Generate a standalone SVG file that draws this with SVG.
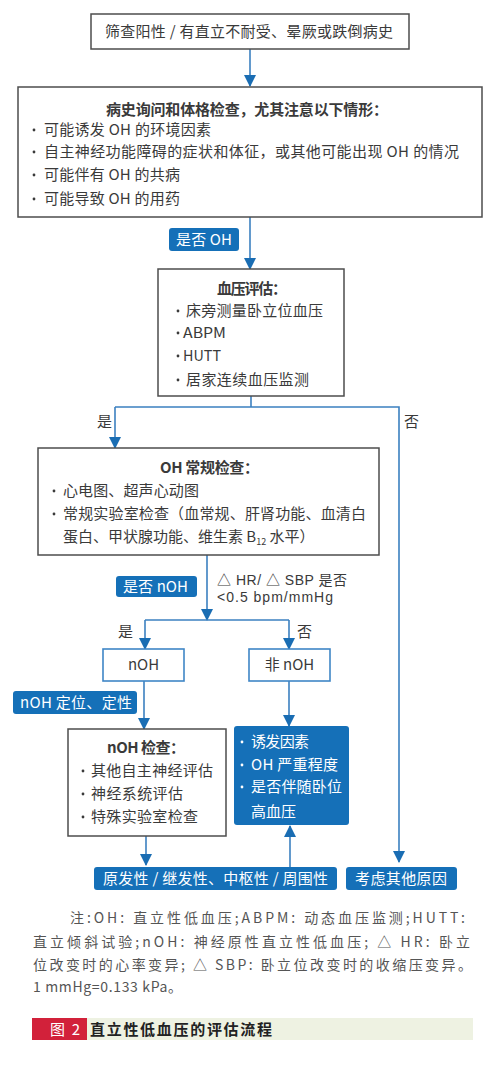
<svg xmlns="http://www.w3.org/2000/svg" width="500" height="1074" viewBox="0 0 500 1074">
<defs>
<style>
text{font-family:"Noto Sans CJK SC","Liberation Sans",sans-serif;font-size:15px;fill:#3a3a3a}
.b{font-weight:bold}
.w{fill:#ffffff}
.box{fill:#ffffff;stroke:#4d4d4d;stroke-width:1.5}
.bbox{fill:#ffffff;stroke:#3f86c6;stroke-width:1.6}
.fill{fill:#1570b8}
.con{fill:none;stroke:#3b80c0;stroke-width:1.6}
.note{font-size:14px;fill:#555}
.sm{font-family:"Liberation Sans","Noto Sans CJK SC",sans-serif;font-size:14px}
.dot{fill:#3a3a3a}
.wdot{fill:#ffffff}
</style>
<marker id="ah" markerUnits="userSpaceOnUse" markerWidth="12" markerHeight="14" refX="11" refY="6" orient="auto">
<path d="M0,0 L12,6 L0,12 Z" fill="#1a6db3"/>
</marker>
</defs>
<rect width="500" height="1074" fill="#ffffff"/>

<g id="connectors">
<line class="con" x1="250" y1="49" x2="250" y2="86" marker-end="url(#ah)"/>
<line class="con" x1="250" y1="217" x2="250" y2="269" marker-end="url(#ah)"/>
<polyline class="con" points="251,396 251,407"/>
<polyline class="con" points="115,407 399,407 399,862" marker-end="url(#ah)"/>
<line class="con" x1="115" y1="407" x2="115" y2="448" marker-end="url(#ah)"/>
<line class="con" x1="207" y1="555" x2="207" y2="620" marker-end="url(#ah)"/>
<polyline class="con" points="145,620 289,620"/>
<line class="con" x1="145" y1="620" x2="145" y2="649" marker-end="url(#ah)"/>
<line class="con" x1="289" y1="620" x2="289" y2="649" marker-end="url(#ah)"/>
<line class="con" x1="144" y1="681" x2="144" y2="729" marker-end="url(#ah)"/>
<line class="con" x1="289" y1="681" x2="289" y2="726" marker-end="url(#ah)"/>
<line class="con" x1="146" y1="836" x2="146" y2="865" marker-end="url(#ah)"/>
<line class="con" x1="290" y1="867" x2="290" y2="826" marker-end="url(#ah)"/>
<text x="97" y="427">是</text>
<text x="404" y="427">否</text>
<text x="118" y="637">是</text>
<text x="297" y="637">否</text>
<text class="sm" x="217" y="585" textLength="130" lengthAdjust="spacing">△ HR/ △ SBP 是否</text>
<text class="sm" x="217" y="602" textLength="116" lengthAdjust="spacing">&lt;0.5 bpm/mmHg</text>
</g>

<g id="n1">
<rect class="box" x="91" y="14" width="318" height="35"/>
<text x="105" y="37" textLength="288" lengthAdjust="spacing">筛查阳性 / 有直立不耐受、晕厥或跌倒病史</text>
</g>

<g id="n2">
<rect class="box" x="18" y="87" width="464" height="130"/>
<text class="b" x="106" y="115" textLength="282" lengthAdjust="spacing">病史询问和体格检查，尤其注意以下情形：</text>
<circle class="dot" cx="34" cy="130" r="1.4"/><text x="44" y="135" textLength="167" lengthAdjust="spacing">可能诱发 OH 的环境因素</text>
<circle class="dot" cx="34" cy="152" r="1.4"/><text x="44" y="157" textLength="415" lengthAdjust="spacing">自主神经功能障碍的症状和体征，或其他可能出现 OH 的情况</text>
<circle class="dot" cx="34" cy="175" r="1.4"/><text x="44" y="180" textLength="136" lengthAdjust="spacing">可能伴有 OH 的共病</text>
<circle class="dot" cx="34" cy="199" r="1.4"/><text x="44" y="204" textLength="136" lengthAdjust="spacing">可能导致 OH 的用药</text>
</g>

<g id="l1">
<rect class="fill" x="169" y="228" width="70" height="23" rx="3"/>
<text class="w" x="176" y="245" textLength="56" lengthAdjust="spacing">是否 OH</text>
</g>

<g id="n3">
<rect class="box" x="158" y="269" width="186" height="127"/>
<text class="b" x="217" y="294" textLength="70" lengthAdjust="spacing">血压评估：</text>
<circle class="dot" cx="178" cy="311" r="1.4"/><text x="186" y="316" textLength="137" lengthAdjust="spacing">床旁测量卧立位血压</text>
<circle class="dot" cx="178" cy="333" r="1.4"/><text x="183" y="338" textLength="43" lengthAdjust="spacingAndGlyphs">ABPM</text>
<circle class="dot" cx="178" cy="356" r="1.4"/><text x="183" y="361" textLength="38" lengthAdjust="spacingAndGlyphs">HUTT</text>
<circle class="dot" cx="178" cy="380" r="1.4"/><text x="186" y="385" textLength="123" lengthAdjust="spacing">居家连续血压监测</text>
</g>

<g id="n4">
<rect class="box" x="38" y="448" width="341" height="107"/>
<text class="b" x="160" y="473" textLength="99" lengthAdjust="spacing">OH 常规检查：</text>
<circle class="dot" cx="54" cy="491" r="1.4"/><text x="63" y="496" textLength="136" lengthAdjust="spacing">心电图、超声心动图</text>
<circle class="dot" cx="54" cy="514" r="1.4"/><text x="63" y="519" textLength="303" lengthAdjust="spacing">常规实验室检查（血常规、肝肾功能、血清白</text>
<text x="63" y="542">蛋白、甲状腺功能、维生素 B<tspan font-size="9" dy="3">12</tspan><tspan dy="-3"> 水平）</tspan></text>
</g>

<g id="l2">
<rect class="fill" x="116" y="576" width="81" height="21" rx="3"/>
<text class="w" x="123" y="592" textLength="65" lengthAdjust="spacing">是否 nOH</text>
</g>

<g id="n5">
<rect class="bbox" x="103" y="649" width="81" height="32"/>
<text x="143.5" y="670" text-anchor="middle">nOH</text>
</g>

<g id="n6">
<rect class="bbox" x="249" y="649" width="81" height="32"/>
<text x="289.5" y="670" text-anchor="middle">非 nOH</text>
</g>

<g id="l3">
<rect class="fill" x="13" y="691" width="124" height="23" rx="3"/>
<text class="w" x="20" y="708" textLength="112" lengthAdjust="spacing">nOH 定位、定性</text>
</g>

<g id="n7">
<rect class="box" x="68" y="729" width="158" height="107"/>
<text class="b" x="107" y="753" textLength="78" lengthAdjust="spacing">nOH 检查：</text>
<circle class="dot" cx="83" cy="771" r="1.4"/><text x="91" y="776" textLength="122" lengthAdjust="spacing">其他自主神经评估</text>
<circle class="dot" cx="83" cy="794" r="1.4"/><text x="91" y="799" textLength="92" lengthAdjust="spacing">神经系统评估</text>
<circle class="dot" cx="83" cy="817" r="1.4"/><text x="91" y="822" textLength="107" lengthAdjust="spacing">特殊实验室检查</text>
</g>

<g id="n8">
<rect class="fill" x="234" y="726" width="115" height="99" rx="3"/>
<circle class="wdot" cx="242" cy="742" r="1.4"/><text class="w" x="251" y="747" textLength="58" lengthAdjust="spacing">诱发因素</text>
<circle class="wdot" cx="242" cy="765" r="1.4"/><text class="w" x="251" y="770" textLength="87" lengthAdjust="spacing">OH 严重程度</text>
<circle class="wdot" cx="242" cy="787" r="1.4"/><text class="w" x="251" y="792" textLength="91" lengthAdjust="spacing">是否伴随卧位</text>
<text class="w" x="251" y="817" textLength="45" lengthAdjust="spacing">高血压</text>
</g>

<g id="n9">
<rect class="fill" x="94" y="867" width="243" height="23" rx="3"/>
<text class="w" x="103" y="884" textLength="225" lengthAdjust="spacing">原发性 / 继发性、中枢性 / 周围性</text>
</g>

<g id="n10">
<rect class="fill" x="346" y="867" width="111" height="23" rx="3"/>
<text class="w" x="355" y="884" textLength="92" lengthAdjust="spacing">考虑其他原因</text>
</g>

<g id="note">
<text class="note" x="70" y="923" textLength="395" lengthAdjust="spacing">注:OH: 直立性低血压;ABPM: 动态血压监测;HUTT:</text>
<text class="note" x="33" y="947" textLength="437" lengthAdjust="spacing">直立倾斜试验;nOH: 神经原性直立性低血压; △ HR: 卧立</text>
<text class="note" x="33" y="970" textLength="439" lengthAdjust="spacing">位改变时的心率变异; △ SBP: 卧立位改变时的收缩压变异。</text>
<text class="note" x="33" y="992" textLength="149" lengthAdjust="spacing">1 mmHg=0.133 kPa。</text>
</g>

<g id="caption">
<rect x="87" y="1018" width="386" height="22" fill="#eef2e2"/>
<rect x="32" y="1018" width="55" height="22" fill="#d2213a"/>
<text class="w" x="50" y="1035" textLength="30" lengthAdjust="spacing">图 2</text>
<text class="b" x="90" y="1035" style="fill:#222" textLength="182" lengthAdjust="spacing">直立性低血压的评估流程</text>
</g>
</svg>
